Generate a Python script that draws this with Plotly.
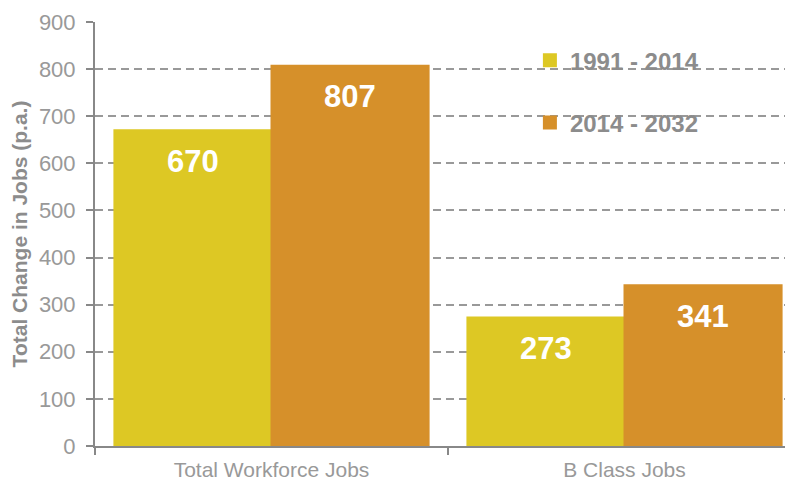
import plotly.graph_objects as go

# data
categories = ["Total Workforce Jobs", "B Class Jobs"]
series_names = ["1991 - 2014", "2014 - 2032"]
jobs_1991_2014 = [670, 273]
jobs_2014_2032 = [807, 341]
y_ticks = [0, 100, 200, 300, 400, 500, 600, 700, 800, 900]

colors = ["#DDC824", "#D6902A"]
grey = "#8C8C8C"
font_family = "Liberation Sans, Arial, sans-serif"


def main():
    fig = go.Figure()
    for i, (name, values) in enumerate(zip(series_names, [jobs_1991_2014, jobs_2014_2032])):
        fig.add_trace(go.Bar(
            x=categories,
            y=values,
            name=f"<b>{name}</b>",
            legendgroup=name,
            # same-colour outline makes the legend square a bit bigger
            marker=dict(color=colors[i], line=dict(width=2, color=colors[i])),
        ))
        # value labels inside the bars, a bit below the top
        for cat, val in zip(categories, values):
            fig.add_annotation(
                x=cat, y=val, xref="x", yref="y",
                text=f"<b>{val}</b>",
                showarrow=False,
                xshift=-78.5 if i == 0 else 78.5,
                yshift=-31,
                yanchor="middle",
                font=dict(size=31, color="white", family=font_family),
            )

    # page body has an 8px margin, so the margins here are shifted by 8
    fig.update_layout(
        width=793, height=480,
        margin=dict(l=87, r=0, t=14, b=42, autoexpand=False),
        plot_bgcolor="white",
        paper_bgcolor="white",
        barmode="group",
        bargap=0.11,
        bargroupgap=0,
        font=dict(family=font_family, color=grey, size=21),
        legend=dict(
            x=0.616, y=0.962, xanchor="left", yanchor="top",
            font=dict(size=24, color=grey, family=font_family),
            tracegroupgap=28,
            bgcolor="rgba(0,0,0,0)",
        ),
        showlegend=True,
    )

    fig.update_yaxes(
        automargin=False,
        range=[0, 900],
        tickvals=y_ticks,
        showgrid=True,
        gridcolor="#999999",
        gridwidth=1.5,
        griddash="8px,5px",
        showline=True,
        linecolor="#888888",
        linewidth=2,
        ticks="outside",
        ticklen=7,
        tickcolor="#888888",
        tickwidth=1.5,
        ticklabelstandoff=6,
        tickfont=dict(size=22, color="#999999"),
        zeroline=False,
        title=dict(text="<b>Total Change in Jobs (p.a.)</b>", font=dict(size=21, color=grey), standoff=6),
    )
    fig.update_xaxes(
        automargin=False,
        range=[-0.5, 1.5],
        showline=True,
        linecolor="#888888",
        linewidth=2,
        ticks="outside",
        tickson="boundaries",
        ticklen=7,
        tickcolor="#888888",
        tickwidth=1.5,
        ticklabelstandoff=4,
        tickfont=dict(size=21, color="#999999"),
        showgrid=False,
    )

    fig.write_html("out.html")


if __name__ == "__main__":
    main()
